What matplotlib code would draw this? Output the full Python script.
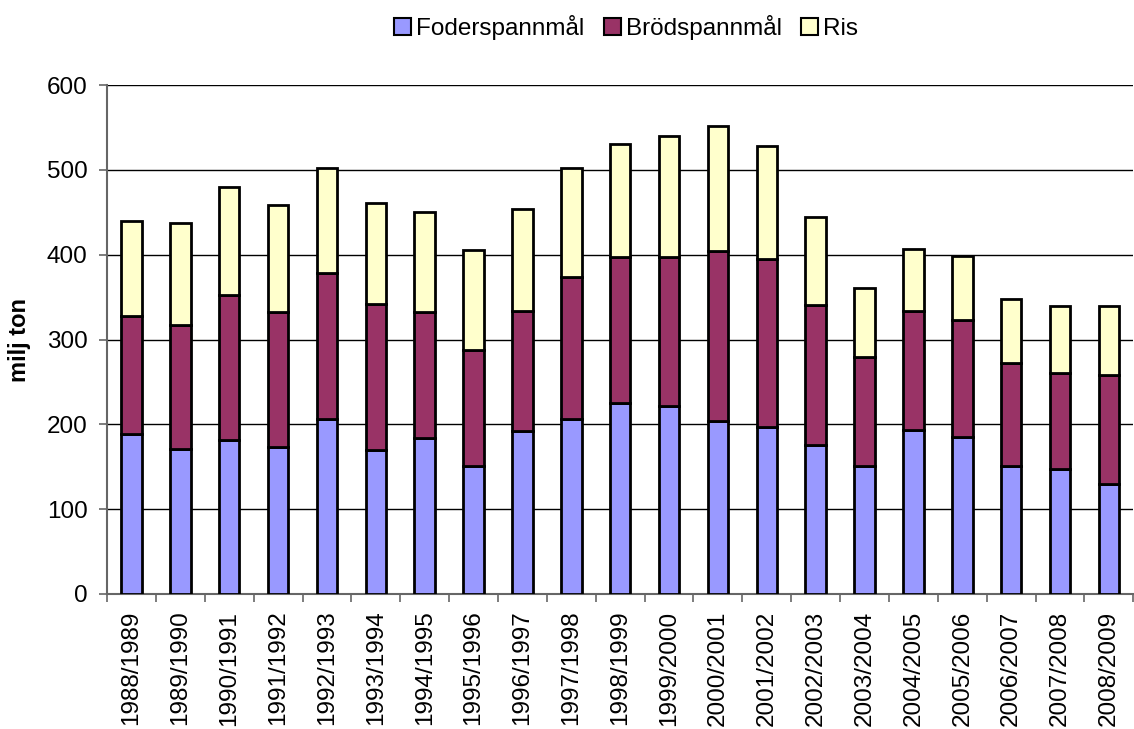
import matplotlib.pyplot as plt
import numpy as np
from matplotlib.patches import Patch

plt.rcParams['font.family'] = ['Liberation Sans', 'DejaVu Sans']

# data (milj ton)
years = ['1988/1989', '1989/1990', '1990/1991', '1991/1992', '1992/1993', '1993/1994',
         '1994/1995', '1995/1996', '1996/1997', '1997/1998', '1998/1999', '1999/2000',
         '2000/2001', '2001/2002', '2002/2003', '2003/2004', '2004/2005', '2005/2006',
         '2006/2007', '2007/2008', '2008/2009']
foder = [189, 171, 182, 173, 206, 170, 184, 151, 192, 206, 225, 222, 204, 197, 176, 151, 193, 185, 151, 147, 130]
brod = [139, 146, 171, 160, 172, 172, 149, 137, 142, 168, 172, 175, 200, 198, 165, 129, 141, 138, 121, 114, 128]
ris = [112, 121, 127, 126, 124, 119, 117, 118, 120, 128, 134, 143, 148, 133, 103, 81, 73, 76, 76, 78, 82]

colors = ['#9999FF', '#993366', '#FFFFCC']
labels = ['Foderspannmål', 'Brödspannmål', 'Ris']


def plot_chart():
    fig = plt.figure(figsize=(11.34, 7.29), dpi=100)
    ax = fig.add_axes([0.0944, 0.1852, 0.905, 0.698])

    x = np.arange(len(years))
    bottom = np.zeros(len(years))
    for vals, c, lab in zip([foder, brod, ris], colors, labels):
        ax.bar(x, vals, width=0.42, bottom=bottom, color=c, edgecolor='black',
               linewidth=2, label=lab, zorder=3)
        bottom += np.array(vals)

    ax.set_xlim(-0.5, len(years) - 0.5)
    ax.set_ylim(0, 600)
    ax.set_yticks(range(0, 601, 100))
    ax.yaxis.grid(True, color='black', linewidth=1, zorder=0)

    # kategorietiketter, roterade
    ax.set_xticks(x)
    ax.set_xticklabels(years, rotation=90, fontsize=17.5, va='top')
    ax.tick_params(axis='x', length=0, pad=12)
    ax.set_xticks(np.arange(-0.5, len(years), 1), minor=True)
    ax.tick_params(axis='x', which='minor', length=6, color='#666666', width=1.2)
    ax.tick_params(axis='y', labelsize=17.5, length=6, color='#666666', width=1.2, pad=8)

    for s in ['top', 'right']:
        ax.spines[s].set_visible(False)
    ax.spines['left'].set_color('#666666')
    ax.spines['left'].set_linewidth(1.5)
    ax.spines['bottom'].set_color('#666666')
    ax.spines['bottom'].set_linewidth(1.5)

    ax.set_ylabel('milj ton', fontsize=17, fontweight='bold')
    ax.yaxis.set_label_coords(-0.074, 0.5)

    handles = [Patch(facecolor=c, edgecolor='black', linewidth=1.5) for c in colors]
    fig.legend(handles, labels, loc='center', bbox_to_anchor=(0.552, 0.962), ncol=3,
               frameon=False, fontsize=17.5, handlelength=0.7, handleheight=0.7,
               handletextpad=0.2, columnspacing=0.8)

    plt.savefig('out.png', dpi=100)


if __name__ == '__main__':
    plot_chart()
